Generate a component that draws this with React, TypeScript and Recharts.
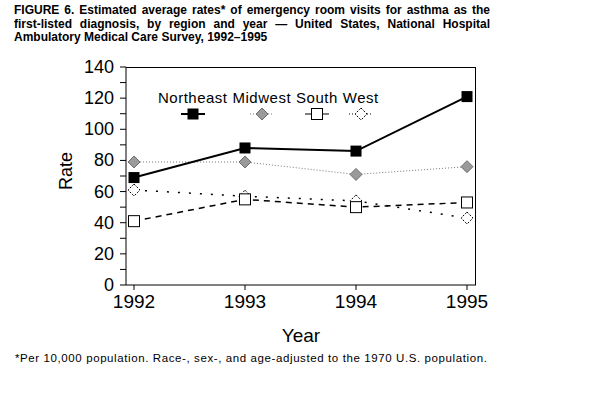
import React from "react";
import { LineChart, Line, XAxis, YAxis } from "recharts";

// 지역별 천식 응급실 방문율 (per 10,000), 1992–1995
const years = [1992, 1993, 1994, 1995];
const northeast = [69, 88, 86, 121];
const midwest = [79, 79, 71, 76];
const south = [41, 55, 50, 53];
const west = [61, 57, 54, 43];
const yTicks = [0, 10, 20, 30, 40, 50, 60, 70, 80, 90, 100, 110, 120, 130, 140];

const data = years.map((year, i) => ({
  year,
  northeast: northeast[i],
  midwest: midwest[i],
  south: south[i],
  west: west[i],
}));

const FONT = "'Liberation Sans', Arial, Helvetica, sans-serif";

type Kind = "filledSquare" | "grayDiamond" | "openSquare" | "openDiamond";

function Marker({ kind, cx, cy }: { kind: Kind; cx: number; cy: number }) {
  const s = 5.5;
  if (kind === "filledSquare")
    return <rect x={cx - s} y={cy - s} width={s * 2} height={s * 2} fill="#000" />;
  if (kind === "openSquare")
    return <rect x={cx - s} y={cy - s} width={s * 2} height={s * 2} fill="#fff" stroke="#000" strokeWidth={1} />;
  const d = 6;
  const pts = `${cx},${cy - d} ${cx + d},${cy} ${cx},${cy + d} ${cx - d},${cy}`;
  if (kind === "grayDiamond") return <polygon points={pts} fill="#9a9a9a" stroke="#6e6e6e" strokeWidth={1} />;
  return <polygon points={pts} fill="#fff" stroke="#000" strokeWidth={1} strokeDasharray="2 1.5" />;
}

const dotOf = (kind: Kind) => (p: any) => <Marker key={`${kind}-${p.index}`} kind={kind} cx={p.cx} cy={p.cy} />;

const legendItems: { name: string; kind: Kind; dash?: string; stroke: string }[] = [
  { name: "Northeast", kind: "filledSquare", stroke: "#000" },
  { name: "Midwest", kind: "grayDiamond", dash: "1 2", stroke: "#777" },
  { name: "South", kind: "openSquare", stroke: "#000" },
  { name: "West", kind: "openDiamond", dash: "1 2", stroke: "#000" },
];

// 범례: 이름 아래에 기호를 두는 원본 배치
function LegendBox() {
  return (
    <div style={{ display: "flex", gap: 5, fontFamily: FONT, fontSize: 15, letterSpacing: 0.5, color: "#000" }}>
      {legendItems.map((it) => (
        <div key={it.name} style={{ display: "flex", flexDirection: "column", alignItems: "center" }}>
          <span style={{ lineHeight: "17px" }}>{it.name}</span>
          <svg width={26} height={16}>
            <line x1={1} y1={8} x2={25} y2={8} stroke={it.stroke} strokeWidth={it.kind === "filledSquare" ? 2 : 1} strokeDasharray={it.dash} />
            <Marker kind={it.kind} cx={13} cy={8} />
          </svg>
        </div>
      ))}
    </div>
  );
}

function YTick({ x, y, payload }: any) {
  if (payload.value % 20 !== 0) return null;
  return (
    <text x={x} y={y} dy={6} textAnchor="end" fontFamily={FONT} fontSize={18} fill="#000">
      {payload.value}
    </text>
  );
}

export default function App() {
  return (
    <div style={{ position: "absolute", left: 0, top: 0, width: 591, height: 394, background: "#fff", overflow: "hidden" }}>
      <div style={{ position: "absolute", left: 14, top: 4, width: 476, fontFamily: FONT, fontWeight: "bold", fontSize: 12, lineHeight: "13.5px", color: "#000" }}>
        <div style={{ textAlign: "justify", textAlignLast: "justify" }}>
          FIGURE 6. Estimated average rates* of emergency room visits for asthma as the
        </div>
        <div style={{ textAlign: "justify", textAlignLast: "justify" }}>
          first-listed diagnosis, by region and year — United States, National Hospital
        </div>
        <div>Ambulatory Medical Care Survey, 1992–1995</div>
      </div>

      {/* 플롯 테두리 (위/오른쪽) */}
      <div style={{ position: "absolute", left: 126, top: 67, width: 350, height: 218, borderTop: "1px solid #000", borderRight: "1px solid #000", boxSizing: "border-box" }} />

      <div style={{ position: "absolute", left: 0, top: 0 }}>
        <LineChart width={591} height={394} data={data} margin={{ top: 67, right: 115, left: 70, bottom: 49 }}>
          <XAxis
            dataKey="year"
            type="number"
            domain={[1992, 1995]}
            ticks={years}
            padding={{ left: 8, right: 9 }}
            height={60}
            stroke="#000"
            tickSize={5}
            tickMargin={5}
            tick={{ fontFamily: FONT, fontSize: 19, fill: "#000" }}
            label={{ value: "Year", position: "insideBottom", offset: 3, fontFamily: FONT, fontSize: 19, fill: "#000" }}
          />
          <YAxis
            domain={[0, 140]}
            ticks={yTicks}
            interval={0}
            width={56}
            stroke="#000"
            tickSize={6}
            tickMargin={6}
            tick={<YTick />}
            label={() => (
              <text x={66} y={171} transform="rotate(-90, 66, 171)" textAnchor="middle" dominantBaseline="central" fontFamily={FONT} fontSize={18} fill="#000">
                Rate
              </text>
            )}
          />
          <Line dataKey="midwest" stroke="#777" strokeWidth={1} strokeDasharray="1 2" dot={dotOf("grayDiamond")} isAnimationActive={false} />
          <Line dataKey="west" stroke="#000" strokeWidth={1.5} strokeDasharray="2 9" dot={dotOf("openDiamond")} isAnimationActive={false} />
          <Line dataKey="south" stroke="#000" strokeWidth={1.5} strokeDasharray="6 5" dot={dotOf("openSquare")} isAnimationActive={false} />
          <Line dataKey="northeast" stroke="#000" strokeWidth={2} dot={dotOf("filledSquare")} isAnimationActive={false} />
        </LineChart>
      </div>

      <div style={{ position: "absolute", left: 158, top: 89 }}>
        <LegendBox />
      </div>

      <div style={{ position: "absolute", left: 15, top: 352, fontFamily: FONT, fontSize: 11.5, letterSpacing: 0.6, color: "#000", whiteSpace: "nowrap" }}>
        *Per 10,000 population. Race-, sex-, and age-adjusted to the 1970 U.S. population.
      </div>
    </div>
  );
}
